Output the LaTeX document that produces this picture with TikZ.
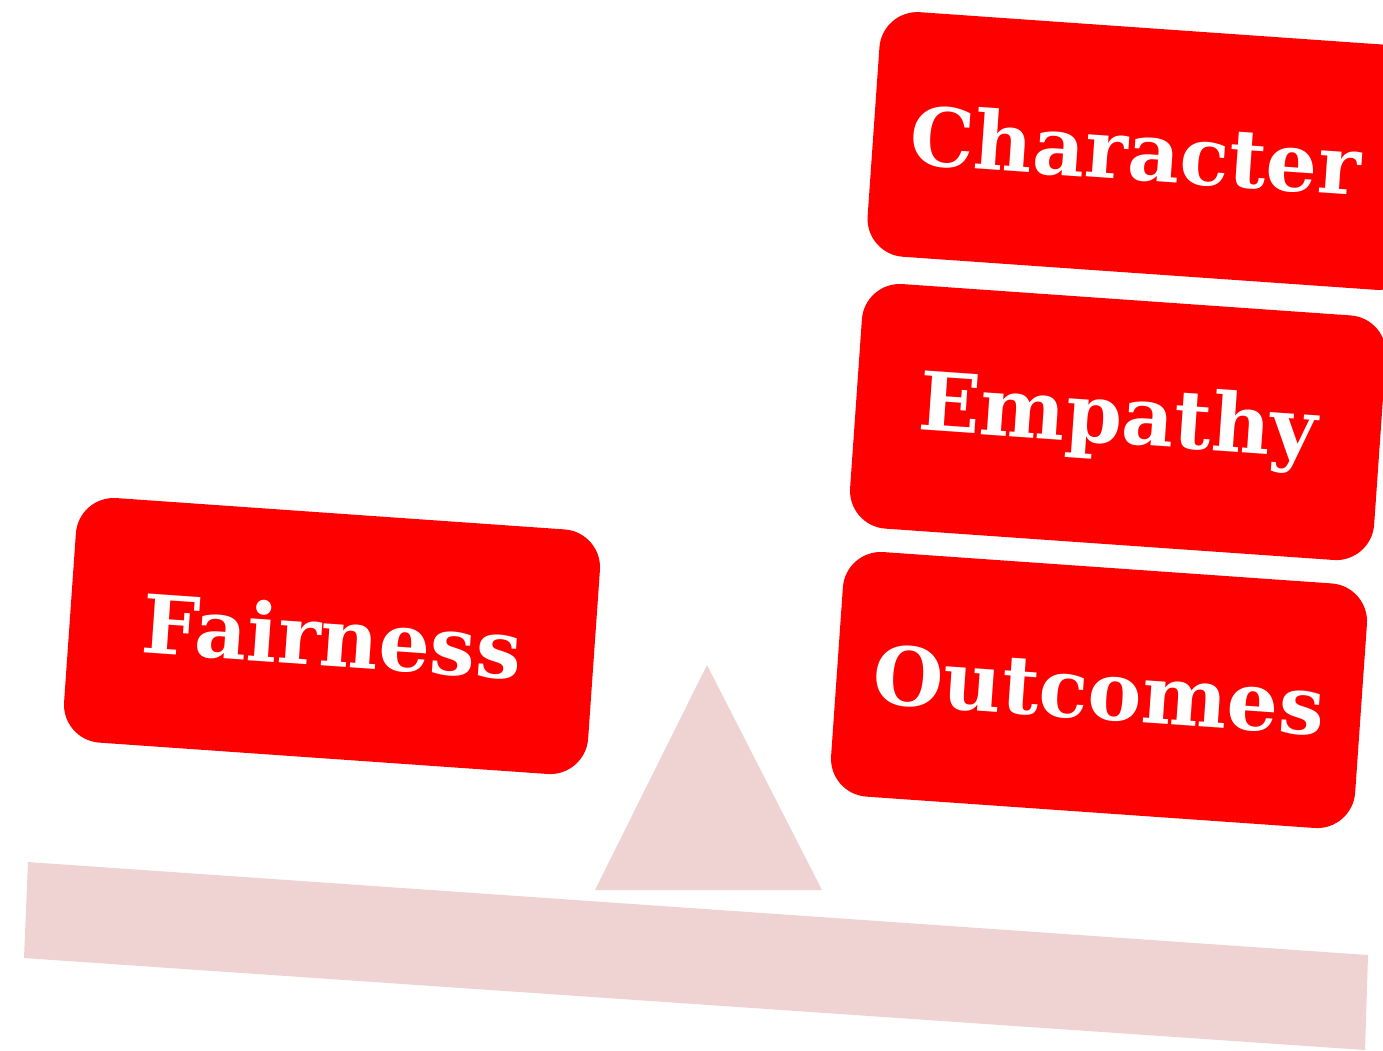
\documentclass[tikz,border=0pt]{standalone}
\usepackage{fontspec}
\setmainfont{DejaVu Serif}
\usepackage{xcolor}
\definecolor{boxred}{RGB}{255,0,0}
\definecolor{scalepink}{RGB}{239,211,211}
\tikzset{
    valuebox/.style={
        rectangle,
        fill=boxred,
        rounded corners=0.38cm,
        minimum width=5.25cm,
        minimum height=2.45cm,
        inner sep=0pt,
        rotate=-4,
        text=white,
        font=\bfseries\fontsize{23}{28}\selectfont % teks putih tebal
    },
    scalepart/.style={
        fill=scalepink,
        draw=none
    }
}
\begin{document}
\begin{tikzpicture}[x=0.01cm, y=-0.01cm]

    \useasboundingbox (0,0) rectangle (1383,1050);
    \clip (0,0) rectangle (1383,1050);

    % papan dan tumpuan
    \fill[scalepart] (28,862) -- (1368,955) -- (1365,1050) -- (24,958) -- cycle;
    \fill[scalepart] (707,665) -- (822,890) -- (595,890) -- cycle;

    \node[valuebox] (fairness) at (332,636) {Fairness};

    \node[valuebox, minimum width=5.5cm] (character) at (1148,151) {\hspace*{-0.25cm}Character};
    \node[valuebox] (empathy) at (1118,422) {Empathy};
    \node[valuebox] (outcomes) at (1099,690) {Outcomes};

\end{tikzpicture}
\end{document}
